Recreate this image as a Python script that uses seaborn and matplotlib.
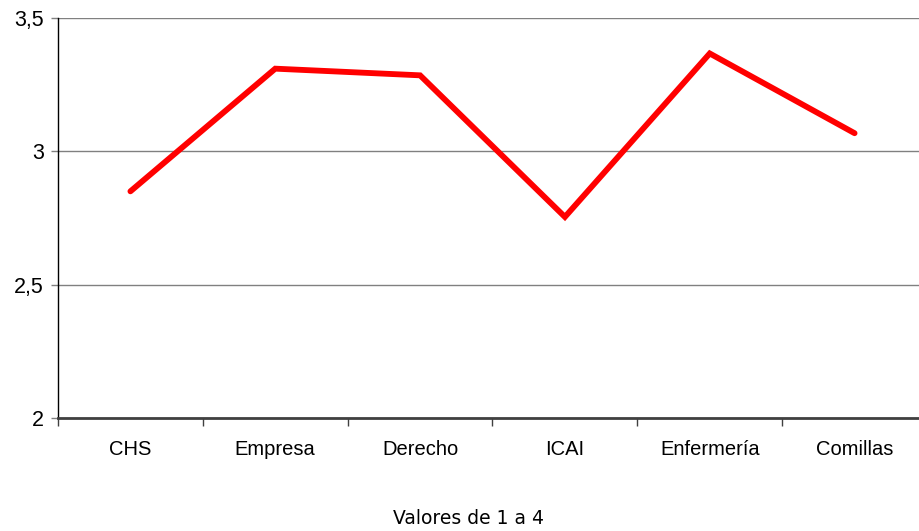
import seaborn as sns
import matplotlib.pyplot as plt
import pandas as pd
from matplotlib.ticker import FixedLocator, NullFormatter

# data
categorias = ["CHS", "Empresa", "Derecho", "ICAI", "Enfermería", "Comillas"]
valores = [2.85, 3.31, 3.285, 2.754, 3.367, 3.068]
y_ticks = [2, 2.5, 3, 3.5]
y_labels = ["2", "2,5", "3", "3,5"]

sns.set_theme(style="white")
plt.rcParams["font.family"] = ["Liberation Sans", "DejaVu Sans"]
plt.rcParams["text.color"] = "black"
plt.rcParams["xtick.color"] = "black"
plt.rcParams["ytick.color"] = "black"

df = pd.DataFrame({"cat": categorias, "val": valores})

fig = plt.figure(figsize=(9.2, 5.31), dpi=100)
ax = fig.add_axes([58 / 920, 113 / 531, 869 / 920, 400 / 531])

sns.lineplot(data=df, x="cat", y="val", ax=ax, color="#ff0000",
             linewidth=4.2, sort=False)
for l in ax.lines:
    l.set_solid_capstyle("round")
    l.set_solid_joinstyle("miter")

ax.set_ylim(2, 3.5)
ax.set_xlim(-0.5, len(categorias) - 0.5)
ax.set_yticks(y_ticks)
ax.set_yticklabels(y_labels, fontsize=15.5)
ax.yaxis.grid(True, color="#808080", linewidth=1)
ax.set_axisbelow(True)

# category labels on minor ticks, boundary ticks as major
ax.xaxis.set_major_locator(FixedLocator([i - 0.5 for i in range(len(categorias) + 1)]))
ax.xaxis.set_major_formatter(NullFormatter())
ax.xaxis.set_minor_locator(FixedLocator(list(range(len(categorias)))))
ax.set_xticklabels(categorias, minor=True, fontsize=14.5)
ax.tick_params(axis="x", which="minor", length=0, pad=16, bottom=True)
ax.tick_params(axis="x", which="major", length=6, width=1, color="#404040",
               direction="out", bottom=True)
ax.tick_params(axis="y", length=5, width=1, color="#808080", direction="out",
               pad=5, left=True)

for s in ["top", "right"]:
    ax.spines[s].set_visible(False)
ax.spines["left"].set_color("black")
ax.spines["left"].set_linewidth(1)
ax.spines["bottom"].set_color("#404040")
ax.spines["bottom"].set_linewidth(2)

ax.set_ylabel("")
ax.set_xlabel("")
fig.text(469 / 920, 1 - 518 / 531, "Valores de 1 a 4", ha="center", va="center",
         fontsize=13.5, family="DejaVu Sans", color="black")

fig.savefig("out.png", dpi=100)
